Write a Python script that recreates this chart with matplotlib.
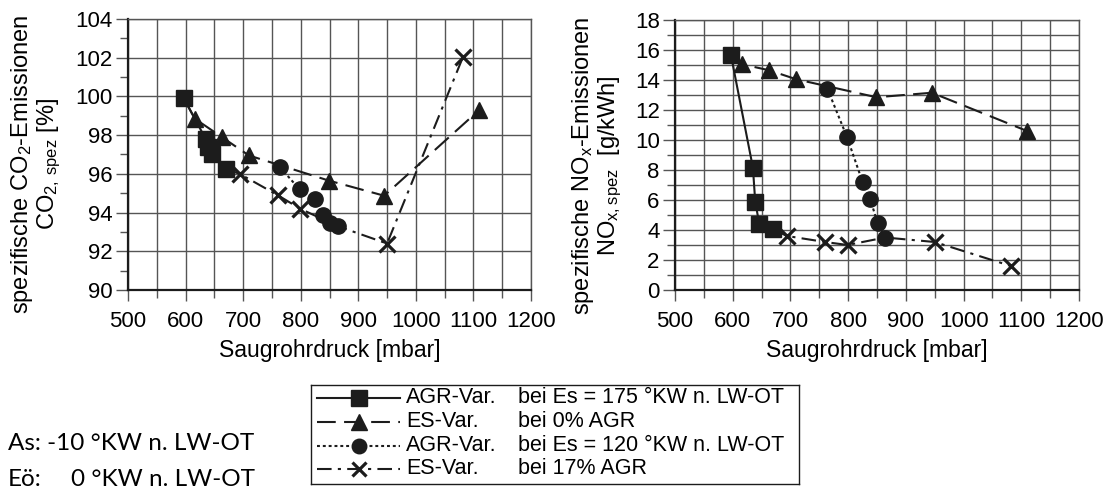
"""
Spezifische CO2- und NOx-Emissionen über dem Saugrohrdruck
(AGR- und ES-Variation). Outputs out.png
"""

import matplotlib

matplotlib.use("Agg")
import matplotlib.pyplot as plt
from matplotlib.ticker import MultipleLocator

# --- data ------------------------------------------------------------------
# AGR-Var. bei Es = 175 °KW n. LW-OT
p_agr175 = [597, 635, 639, 646, 670]
co2_agr175 = [99.9, 97.8, 97.4, 97.0, 96.25]
nox_agr175 = [15.65, 8.15, 5.9, 4.4, 4.05]

# ES-Var. bei 0% AGR (starts at the first AGR-175 point)
p_es0 = [597, 616, 663, 710, 849, 945, 1110]
co2_es0 = [99.9, 98.85, 97.9, 96.95, 95.65, 94.87, 99.3]
nox_es0 = [15.65, 15.05, 14.65, 14.05, 12.85, 13.15, 10.6]
mark_es0 = [1, 2, 3, 4, 5, 6]

# AGR-Var. bei Es = 120 °KW n. LW-OT
p_agr120 = [764, 798, 825, 838, 851, 864]
co2_agr120 = [96.34, 95.2, 94.7, 93.9, 93.45, 93.3]
nox_agr120 = [13.42, 10.2, 7.2, 6.1, 4.45, 3.5]

# ES-Var. bei 17% AGR (passes through shared points of the AGR series)
p_es17 = [670, 694, 760, 799, 864, 950, 1082]
co2_es17 = [96.25, 96.0, 94.9, 94.2, 93.3, 92.4, 102.05]
nox_es17 = [4.05, 3.6, 3.2, 3.0, 3.5, 3.2, 1.6]
mark_es17 = [1, 2, 3, 5, 6]

legend_names = ["AGR-Var.", "ES-Var.", "AGR-Var.", "ES-Var."]
legend_cond = [
    "bei Es = 175 °KW n. LW-OT",
    "bei 0% AGR",
    "bei Es = 120 °KW n. LW-OT",
    "bei 17% AGR",
]

# --- styles -----------------------------------------------------------------
INK = "#1c1c1c"
GRID = "#555555"
W, H = 1108, 488

plt.rcParams["font.family"] = ["Liberation Sans", "DejaVu Sans"]
plt.rcParams["mathtext.default"] = "regular"

styles = [
    dict(ls="-", marker="s", ms=11.5),
    dict(ls=(0, (9, 4)), marker="^", ms=11.5),
    dict(ls=(0, (1.4, 1.4)), marker="o", ms=11),
    dict(ls=(0, (7, 3, 1.5, 3)), marker="x", ms=11, mew=2.3),
]
for s in styles:
    s.update(color=INK, lw=1.5, mfc=INK, mec=INK)
    s.setdefault("mew", 1.0)


def px_rect(x0, y0, x1, y1):
    return [x0 / W, 1 - y1 / H, (x1 - x0) / W, (y1 - y0) / H]


def style_axes(ax, ylim, ymajor, yminor, ygrid_minor):
    ax.set_xlim(500, 1200)
    ax.set_ylim(*ylim)
    ax.xaxis.set_major_locator(MultipleLocator(100))
    ax.xaxis.set_minor_locator(MultipleLocator(50))
    ax.yaxis.set_major_locator(MultipleLocator(ymajor))
    ax.yaxis.set_minor_locator(MultipleLocator(yminor))
    ax.grid(True, which="major", color=GRID, lw=1.0)
    ax.grid(True, which="minor", axis="x", color=GRID, lw=1.0)
    if ygrid_minor:
        ax.grid(True, which="minor", axis="y", color=GRID, lw=1.0)
    ax.set_axisbelow(True)
    for side in ("top", "right"):
        ax.spines[side].set_color(GRID)
        ax.spines[side].set_linewidth(1.0)
    for side in ("left", "bottom"):
        ax.spines[side].set_color(INK)
        ax.spines[side].set_linewidth(1.6)
    ax.tick_params(axis="x", which="major", length=8, width=1, color=GRID,
                   labelsize=16, pad=7)
    ax.tick_params(axis="x", which="minor", length=6, width=1, color=GRID)
    ax.tick_params(axis="y", which="major", length=9, width=1,
                   color=GRID, labelsize=16, pad=2)
    ax.tick_params(axis="y", which="minor", length=6, width=1, color=GRID)
    ax.set_xlabel("Saugrohrdruck [mbar]", fontsize=16.5, labelpad=5)


def draw_series(ax, co):
    a, b, c, d = co
    ax.plot(p_agr175, a, **styles[0])
    ax.plot(p_es0, b, markevery=mark_es0, **styles[1])
    ax.plot(p_agr120, c, **styles[2])
    ax.plot(p_es17, d, markevery=mark_es17, **styles[3])


fig = plt.figure(figsize=(W / 100, H / 100), dpi=100)

ax1 = fig.add_axes(px_rect(128, 19, 531, 290))
style_axes(ax1, (90, 104), 2, 1, False)
draw_series(ax1, (co2_agr175, co2_es0, co2_agr120, co2_es17))

ax2 = fig.add_axes(px_rect(675, 20, 1079, 290))
style_axes(ax2, (0, 18), 2, 1, True)
draw_series(ax2, (nox_agr175, nox_es0, nox_agr120, nox_es17))

# two-line y labels
fig.text(36 / W, 1 - 164 / H,
         "spezifische CO$_2$-Emissionen\nCO$_{2,\\,spez}$ [%]",
         rotation=90, ha="center", va="center", ma="center", fontsize=17,
         linespacing=0.98)
fig.text(597 / W, 1 - 166 / H,
         "spezifische NO$_x$-Emissionen\nNO$_{x,spez}$  [g/kWh]",
         rotation=90, ha="center", va="center", ma="center", fontsize=17,
         linespacing=0.98)

# legend box drawn by hand so the second column lines up
axl = fig.add_axes(px_rect(311, 385, 799, 484))
axl.set_xlim(311, 799)
axl.set_ylim(484, 385)
axl.set_xticks([])
axl.set_yticks([])
for sp in axl.spines.values():
    sp.set_color(INK)
    sp.set_linewidth(1.0)
row_y = [398, 422, 446, 469]
for s, name, cond, y in zip(styles, legend_names, legend_cond, row_y):
    line_style = {k: v for k, v in s.items() if k not in ("marker", "ms", "mew", "mfc", "mec")}
    axl.plot([317, 400], [y, y], **line_style)
    axl.plot([359], [y], ls="none", marker=s["marker"], ms=s["ms"] * 0.95,
             mew=s["mew"], mfc=INK, mec=INK)
    axl.text(406, y, name, fontsize=15.5, va="center", ha="left")
    axl.text(518, y, cond, fontsize=15.5, va="center", ha="left")

# operating point note
note_font = ["Lato", "DejaVu Sans"]
fig.text(8 / W, 1 - 443 / H, "As: -10 °KW n. LW-OT", family=note_font,
         fontsize=17.5, va="center", ha="left")
fig.text(8 / W, 1 - 479 / H, "Eö:", family=note_font,
         fontsize=17.5, va="center", ha="left")
fig.text(255 / W, 1 - 479 / H, "0 °KW n. LW-OT", family=note_font,
         fontsize=17.5, va="center", ha="right")

fig.savefig("out.png", dpi=100)
